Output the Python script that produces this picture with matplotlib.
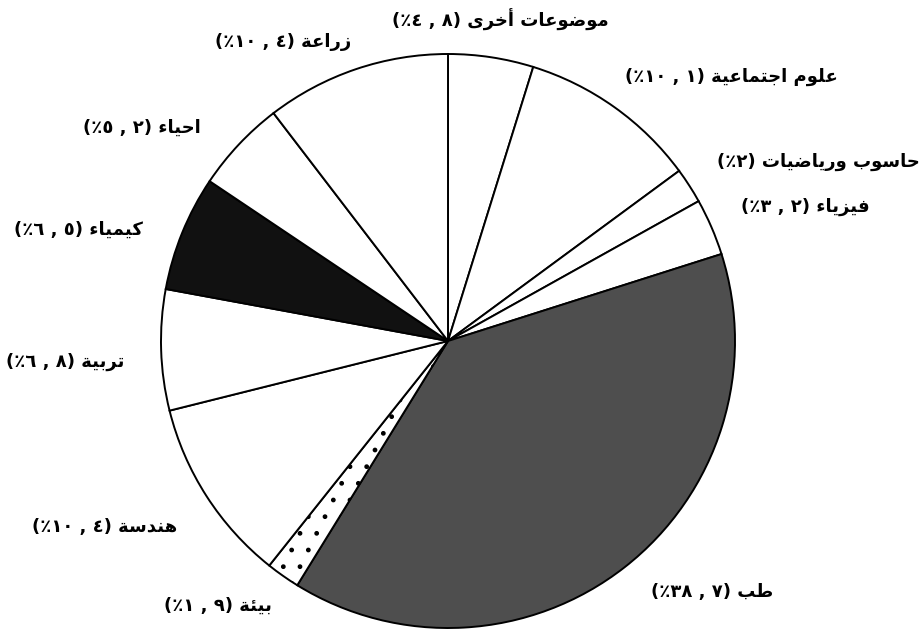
import matplotlib
matplotlib.use("Agg")
import matplotlib.pyplot as plt

# ---- data (clockwise from the top) ----
categories = ["موضوعات أخرى", "علوم اجتماعية", "حاسوب ورياضيات", "فيزياء", "طب",
              "بيئة", "هندسة", "تربية", "كيمياء", "احياء", "زراعة"]
values = [4.8, 10.1, 2.0, 3.2, 38.7, 1.9, 10.4, 6.8, 6.5, 5.2, 10.4]

# ---- styling ----
fills = ["white", "white", "white", "white", "#4e4e4e",
         "white", "white", "white", "#111111", "white", "white"]
hatches = [None, None, None, None, None, ".", None, None, None, None, None]
label_pos = [(500, 20), (731, 77), (818, 162), (805, 207), (712, 592),
             (218, 606), (105, 527), (65, 362), (78, 230), (142, 128), (283, 42)]

# ---- minimal Arabic shaping (presentation forms, visual order) ----
FORMS = {
    '\u0621': (0xFE80, 1), '\u0623': (0xFE83, 2), '\u0626': (0xFE89, 4),
    '\u0627': (0xFE8D, 2), '\u0628': (0xFE8F, 4), '\u0629': (0xFE93, 2),
    '\u062A': (0xFE95, 4), '\u062B': (0xFE99, 4), '\u062C': (0xFE9D, 4),
    '\u062D': (0xFEA1, 4), '\u062E': (0xFEA5, 4), '\u062F': (0xFEA9, 2),
    '\u0631': (0xFEAD, 2), '\u0632': (0xFEAF, 2), '\u0633': (0xFEB1, 4),
    '\u0636': (0xFEBD, 4), '\u0637': (0xFEC1, 4), '\u0639': (0xFEC9, 4),
    '\u0641': (0xFED1, 4), '\u0643': (0xFED9, 4), '\u0644': (0xFEDD, 4),
    '\u0645': (0xFEE1, 4), '\u0646': (0xFEE5, 4), '\u0647': (0xFEE9, 4),
    '\u0648': (0xFEED, 2), '\u0649': (0xFEEF, 2), '\u064A': (0xFEF1, 4),
}


def shape(word):
    out = []
    for i, ch in enumerate(word):
        if ch not in FORMS:
            out.append(ch)
            continue
        base, n = FORMS[ch]
        prev = word[i - 1] if i > 0 else None
        nxt = word[i + 1] if i + 1 < len(word) else None
        jp = n >= 2 and prev in FORMS and FORMS[prev][1] == 4
        jn = n == 4 and nxt in FORMS and FORMS[nxt][1] >= 2
        f = 3 if (jp and jn) else 1 if jp else 2 if jn else 0
        out.append(chr(base + f))
    return ''.join(reversed(out))


def ar_digits(s):
    return ''.join(chr(0x0660 + int(c)) for c in s)


def make_label(name, v):
    s = f"{v:.1f}"
    ip, dp = s.split('.')
    if dp == '0':
        inner = '\u066A' + ar_digits(ip)
    else:
        inner = '\u066A' + ar_digits(ip) + ' , ' + ar_digits(dp)
    return '(' + inner + ') ' + shape(name)


W, H = 923, 630
fig = plt.figure(figsize=(W / 100, H / 100), dpi=100)
ax = fig.add_axes([0, 0, 1, 1])
ax.set_xlim(0, W)
ax.set_ylim(0, H)
ax.set_aspect('equal')
ax.axis('off')

wedges, _ = ax.pie(values, startangle=90, counterclock=False,
                   center=(448, H - 341), radius=287, colors=fills,
                   wedgeprops=dict(edgecolor='black', linewidth=1.4))
for w, h in zip(wedges, hatches):
    if h:
        w.set_hatch(h)
ax.set_xlim(0, W)
ax.set_ylim(0, H)

for name, v, (x, y) in zip(categories, values, label_pos):
    ax.text(x, H - y, make_label(name, v), ha='center', va='center',
            fontsize=13, fontweight='bold', family=['DejaVu Sans'])

fig.savefig("out.png", dpi=100)
